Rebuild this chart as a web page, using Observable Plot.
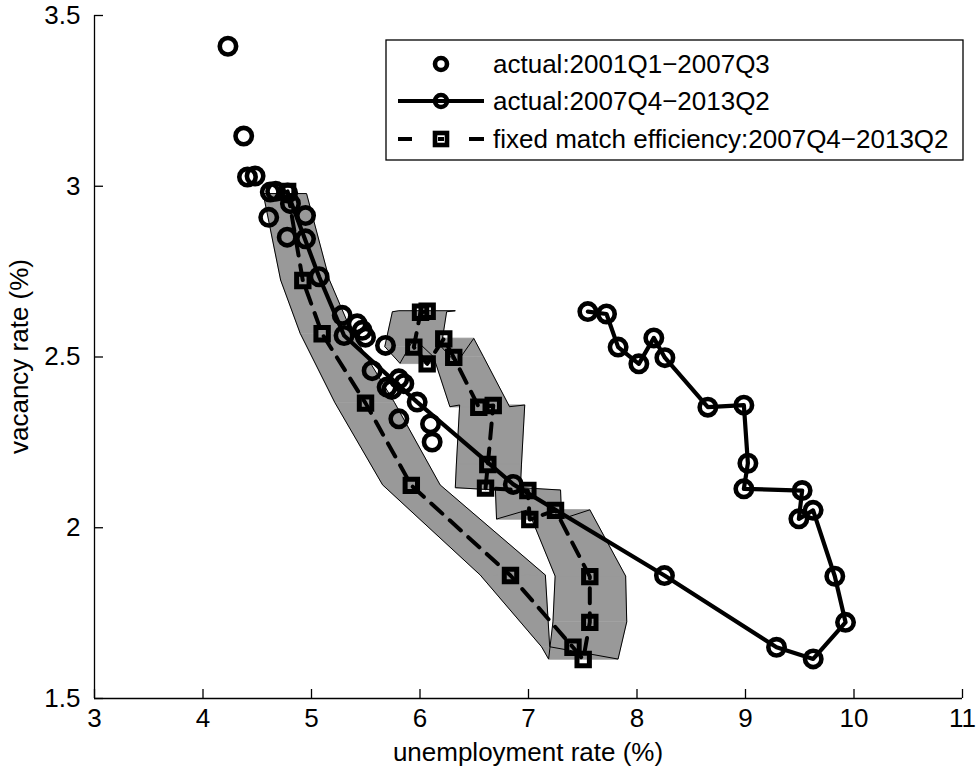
<!DOCTYPE html>
<html><head><meta charset="utf-8">
<script src="https://cdn.jsdelivr.net/npm/d3@7"></script>
<script src="https://cdn.jsdelivr.net/npm/@observablehq/plot@0.6"></script>
<style>
html,body{margin:0;padding:0;background:#fff;}
#chart{position:relative;width:978px;height:772px;}
</style></head><body><div id="chart"></div>
<script>
// ---- data ----
const xTicks = [3, 4, 5, 6, 7, 8, 9, 10, 11];
const yTicks = [1.5, 2, 2.5, 3, 3.5];
const xLabel = "unemployment rate (%)";
const yLabel = "vacancy rate (%)";
const seriesNames = ["actual:2001Q1\u22122007Q3", "actual:2007Q4\u22122013Q2", "fixed match efficiency:2007Q4\u22122013Q2"];

// actual 2001Q1-2007Q3 (scatter)
const preU = [4.23, 4.375, 4.41, 4.48, 4.62, 4.67, 4.606, 4.806, 4.945, 4.776, 4.945, 5.283, 5.421, 5.467, 5.498, 5.682, 5.559, 5.697, 5.74, 5.805, 5.851, 5.805, 6.097, 6.112];
const preV = [3.41, 3.147, 3.027, 3.03, 2.983, 2.985, 2.909, 2.949, 2.914, 2.851, 2.846, 2.622, 2.597, 2.578, 2.558, 2.534, 2.460, 2.412, 2.405, 2.436, 2.422, 2.319, 2.304, 2.251];

// actual 2007Q4-2013Q2 (solid line)
const actU = [4.78, 5.07, 5.30, 5.974, 6.86, 8.253, 9.286, 9.624, 9.922, 9.823, 9.623, 9.492, 9.522, 8.985, 9.022, 8.985, 8.653, 8.257, 8.155, 8.017, 7.826, 7.719, 7.547];
const actV = [2.98, 2.735, 2.563, 2.368, 2.127, 1.860, 1.650, 1.616, 1.723, 1.858, 2.051, 2.026, 2.109, 2.114, 2.189, 2.359, 2.353, 2.498, 2.556, 2.480, 2.529, 2.626, 2.633];

// fixed match efficiency 2007Q4-2013Q2 (dashed line)
const fixU = [4.78, 4.92, 5.098, 5.498, 5.92, 6.834, 7.41, 7.504, 7.565, 7.565, 7.249, 7.012, 6.994, 6.604, 6.625, 6.675, 6.542, 6.311, 6.219, 6.066, 5.943, 6.005, 6.066];
const fixV = [2.985, 2.724, 2.568, 2.365, 2.124, 1.860, 1.650, 1.614, 1.723, 1.857, 2.051, 2.024, 2.109, 2.116, 2.185, 2.358, 2.353, 2.499, 2.553, 2.480, 2.529, 2.631, 2.634];

// band around the fixed-efficiency path
const bandV    = [2.976, 2.724, 2.568, 2.365, 2.124, 1.860, 1.650, 1.614, 1.723, 1.857, 2.051, 2.024, 2.109, 2.116, 2.185, 2.358, 2.353, 2.499, 2.553, 2.480, 2.529, 2.631, 2.634];
const bandLow  = [4.56, 4.72, 4.90, 5.22, 5.66, 6.56, 7.125, 7.19, 7.23, 7.25, 7.00, 6.71, 6.70, 6.33, 6.34, 6.37, 6.28, 6.13, 5.95, 5.82, 5.68, 5.75, 5.81];
const bandHigh = [4.96, 5.17, 5.38, 5.77, 6.19, 7.16, 7.20, 7.83, 7.91, 7.90, 7.57, 7.31, 7.30, 6.93, 6.94, 6.97, 6.83, 6.59, 6.50, 6.34, 6.20, 6.25, 6.33];

// ---- tables ----
const pre = preU.map((u, i) => ({u, v: preV[i]}));
const act = actU.map((u, i) => ({u, v: actV[i]}));
const fix = fixU.map((u, i) => ({u, v: fixV[i]}));
const band = bandV.map((v, i) => ({v, lo: bandLow[i], hi: bandHigh[i]}));
const segs = [];
for (let i = 0; i < band.length - 1; i++) {
  segs.push({...band[i], seg: i}, {...band[i + 1], seg: i});
}

const FONT = '"Liberation Sans", Arial, Helvetica, sans-serif';
const FS = 26;
const W = 978, H = 772, mL = 94, mR = 16, mT = 15, mB = 74;

const chart = Plot.plot({
  width: W, height: H,
  marginLeft: mL, marginRight: mR, marginTop: mT, marginBottom: mB,
  style: {fontFamily: FONT, fontSize: FS + "px", color: "#000", background: "#fff", overflow: "visible"},
  x: {domain: [3, 11]},
  y: {domain: [1.5, 3.5]},
  marks: [
    Plot.areaX(segs, {x1: "lo", x2: "hi", y: "v", z: "seg", fill: "#999999", stroke: "#999999", strokeWidth: 0.6, curve: "linear"}),
    Plot.areaX(band, {x1: "lo", x2: "hi", y: "v", fill: "none", stroke: "#000", strokeWidth: 1, curve: "linear"}),
    Plot.line(fix, {x: "u", y: "v", stroke: "#000", strokeWidth: 4, strokeDasharray: "15,10"}),
    Plot.dot(fix, {x: "u", y: "v", symbol: "square", r: 7, stroke: "#000", strokeWidth: 5, fill: "none"}),
    Plot.dot(pre, {x: "u", y: "v", r: 8.2, stroke: "#000", strokeWidth: 4.6, fill: "none"}),
    Plot.line(act, {x: "u", y: "v", stroke: "#000", strokeWidth: 4.2}),
    Plot.dot(act, {x: "u", y: "v", r: 8.2, stroke: "#000", strokeWidth: 4.6, fill: "none"}),
    Plot.ruleX([3], {stroke: "#000", strokeWidth: 1.3}),
    Plot.ruleY([1.5], {stroke: "#000", strokeWidth: 1.3}),
    Plot.axisX(xTicks, {tickSize: 9, dy: -9, tickFormat: () => "", label: null, strokeWidth: 1.3}),
    Plot.axisY(yTicks, {tickSize: 9, dx: 9, tickFormat: () => "", label: null, strokeWidth: 1.3}),
    Plot.axisX(xTicks, {tickSize: 0, tickPadding: 10, label: null, fontSize: FS, tickFormat: d => String(d)}),
    Plot.axisY(yTicks, {tickSize: 0, tickPadding: 14, label: null, fontSize: FS, tickFormat: d => String(d)})
  ]
});

document.getElementById("chart").appendChild(chart);

const svg = d3.select(chart);
// axis titles
svg.append("text").attr("x", mL + (W - mL - mR) / 2).attr("y", 761)
  .attr("text-anchor", "middle").attr("font-family", FONT).attr("font-size", FS).attr("fill", "#000")
  .text(xLabel);
svg.append("text").attr("transform", `translate(28,${mT + (H - mT - mB) / 2}) rotate(-90)`)
  .attr("text-anchor", "middle").attr("font-family", FONT).attr("font-size", FS).attr("fill", "#000")
  .text(yLabel);

// legend
const lg = svg.append("g").attr("text-anchor", "start");
lg.append("rect").attr("x", 386).attr("y", 40).attr("width", 577).attr("height", 120)
  .attr("fill", "#fff").attr("stroke", "#000").attr("stroke-width", 1.3);
const rows = [64, 101, 139];
const mx = 441;
// row 1: marker only
lg.append("circle").attr("cx", mx).attr("cy", rows[0]).attr("r", 6).attr("fill", "none").attr("stroke", "#000").attr("stroke-width", 4.6);
// row 2: solid line + circle
lg.append("line").attr("x1", 398).attr("x2", 484).attr("y1", rows[1]).attr("y2", rows[1]).attr("stroke", "#000").attr("stroke-width", 4.2);
lg.append("circle").attr("cx", mx).attr("cy", rows[1]).attr("r", 6).attr("fill", "none").attr("stroke", "#000").attr("stroke-width", 4.6);
// row 3: dashed line + square
lg.append("line").attr("x1", 398).attr("x2", 412).attr("y1", rows[2]).attr("y2", rows[2]).attr("stroke", "#000").attr("stroke-width", 4);
lg.append("line").attr("x1", 469).attr("x2", 484).attr("y1", rows[2]).attr("y2", rows[2]).attr("stroke", "#000").attr("stroke-width", 4);
lg.append("rect").attr("x", mx - 6).attr("y", rows[2] - 6).attr("width", 12).attr("height", 12).attr("fill", "#fff").attr("stroke", "#000").attr("stroke-width", 4.6);
lg.append("line").attr("x1", mx - 3).attr("x2", mx + 3).attr("y1", rows[2]).attr("y2", rows[2]).attr("stroke", "#000").attr("stroke-width", 4);
seriesNames.forEach((t, i) => {
  lg.append("text").attr("x", 493).attr("y", rows[i]).attr("dy", "0.36em").attr("text-anchor", "start")
    .attr("font-family", FONT).attr("font-size", FS).attr("fill", "#000").text(t);
});
</script></body></html>
